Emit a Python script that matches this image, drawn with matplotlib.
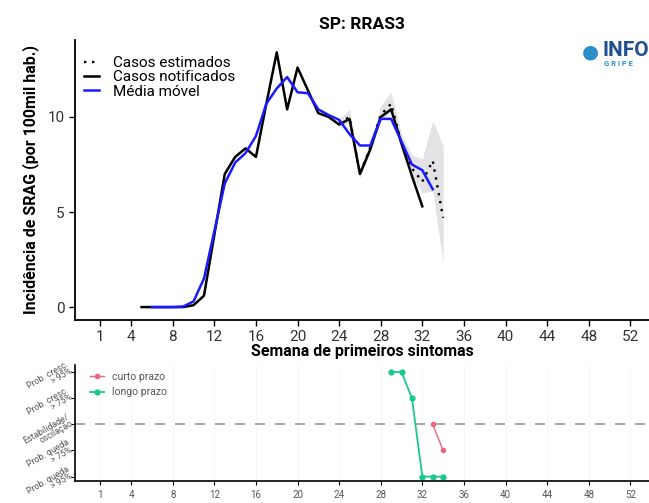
import matplotlib.pyplot as plt
import matplotlib.transforms as mtransforms
import numpy as np

plt.rcParams['font.family'] = ['Roboto', 'DejaVu Sans']

# casos notificados (semana, incidencia)
weeks_notif = list(range(5, 33))
notificados = [0, 0, 0, 0, 0, 0.1, 0.6, 3.8, 7.0, 7.9, 8.35, 7.9, 10.7, 13.4,
               10.4, 12.6, 11.4, 10.2, 10.0, 9.6, 9.9, 7.0, 8.3, 10.0, 10.4,
               8.6, 6.9, 5.3]

# media movel
weeks_mm = list(range(6, 34))
media_movel = [0, 0, 0, 0.03, 0.3, 1.5, 4.0, 6.5, 7.6, 8.1, 9.0, 10.7, 11.5,
               12.1, 11.3, 11.25, 10.4, 10.1, 9.85, 9.1, 8.5, 8.5, 9.9, 9.9,
               8.7, 7.5, 7.2, 6.2]

# casos estimados (nowcasting) com intervalo
weeks_est = list(range(24, 35))
estimados = [9.7, 10.0, 7.0, 8.4, 10.1, 10.7, 8.6, 7.3, 6.6, 7.7, 4.7]
est_inf = [9.5, 9.7, 6.8, 8.2, 9.8, 10.3, 8.2, 6.9, 6.0, 6.1, 2.3]
est_sup = [9.9, 10.4, 7.3, 8.7, 10.6, 11.3, 9.1, 8.0, 7.8, 9.8, 8.5]

# tendencias
weeks_curto = [33, 34]
curto = [0, -1]
weeks_longo = [29, 30, 31, 32, 33, 34]
longo = [2, 2, 1, -2, -2, -2]

xticks = [1, 4, 8, 12, 16, 20, 24, 28, 32, 36, 40, 44, 48, 52]
niveis_y = [-2, -1, 0, 1, 2]
niveis = ["Prob. queda\n> 95%", "Prob. queda\n> 75%", "Estabilidade/\noscilação",
          "Prob. cresc.\n> 75%", "Prob. cresc.\n> 95%"]

fig = plt.figure(figsize=(6.49, 5.03), dpi=100)
ax = fig.add_axes([0.1156, 0.3638, 0.8844, 0.5567])
ax2 = fig.add_axes([0.1156, 0.0437, 0.8844, 0.2307])

ax.fill_between(weeks_est, est_inf, est_sup, color='#d4d4da', alpha=0.65, lw=0)
ax.plot(weeks_est, estimados, color='black', lw=1.7, ls=(0, (1, 2.4)), label='Casos estimados')
ax.plot(weeks_notif, notificados, color='black', lw=1.8, label='Casos notificados')
ax.plot(weeks_mm, media_movel, color='#1a1aff', lw=1.8, label='Média móvel')

ax.set_xlim(-1.4, 53.8)
ax.set_ylim(-0.68, 14.05)
ax.set_xticks(xticks)
ax.set_yticks([0, 5, 10])
ax.tick_params(labelsize=11, length=4, width=1, colors='black', labelcolor='#333333')
for s in ['top', 'right']:
    ax.spines[s].set_visible(False)
for s in ['left', 'bottom']:
    ax.spines[s].set_linewidth(1.3)
ax.set_title('SP: RRAS3', fontsize=12.5, fontweight='bold', pad=8)
ax.set_xlabel('Semana de primeiros sintomas', fontsize=11.5, fontweight='bold', labelpad=0)
ax.set_ylabel('Incidência de SRAG (por 100mil hab.)', fontsize=11.5, fontweight='bold', labelpad=6)
ax.legend(loc='upper left', bbox_to_anchor=(0.0, 0.975), frameon=False, fontsize=11,
          handlelength=1.0, handletextpad=0.9, labelspacing=0.02, borderaxespad=0.2)

# logo
fig.text(0.909, 0.896, '\u25CF', color='#2a8fc8', fontsize=14, ha='center', va='center')
fig.text(0.929, 0.9, 'INFO', color='#1d4f91', fontsize=15, fontweight='bold', ha='left', va='center')
fig.text(0.931, 0.874, 'G R I P E', color='#2a8fc8', fontsize=5.5, fontweight='bold', ha='left', va='center')

# painel de tendencia
ax2.axhline(0, color='#999999', lw=1.2, ls=(0, (6, 6)))
ax2.plot(weeks_curto, curto, color='#e8677c', lw=1, marker='o', ms=3, label='curto prazo')
ax2.plot(weeks_longo, longo, color='#19c98a', lw=1.3, marker='o', ms=3.5, label='longo prazo')
ax2.set_xlim(-1.4, 53.8)
ax2.set_ylim(-2.17, 2.27)
ax2.set_xticks(xticks)
ax2.set_yticks(niveis_y)
ax2.set_yticklabels([])
# rotulos inclinados desenhados a mao, um pouco acima do tick
shift = mtransforms.ScaledTranslation(-5 / 100, 5 / 100, fig.dpi_scale_trans)
for yv, lab in zip(niveis_y, niveis):
    ax2.text(0, yv, lab, transform=ax2.get_yaxis_transform() + shift,
             rotation=30, fontsize=6.3, color='#555555', ha='right', va='center',
             rotation_mode='anchor', linespacing=0.85, multialignment='right')
ax2.tick_params(axis='x', labelsize=7, labelcolor='#555555', length=3)
ax2.tick_params(axis='y', length=3, pad=1)
ax2.grid(axis='x', color='#f7f7f7', lw=0.8)
for s in ['top', 'right']:
    ax2.spines[s].set_visible(False)
for s in ['left', 'bottom']:
    ax2.spines[s].set_linewidth(1.2)
leg = ax2.legend(loc='upper left', bbox_to_anchor=(0.01, 1.02), frameon=False, fontsize=7.5,
                 handlelength=1.3, labelspacing=0.5)
for t in leg.get_texts():
    t.set_color('#555555')

fig.savefig('out.png', dpi=100)
